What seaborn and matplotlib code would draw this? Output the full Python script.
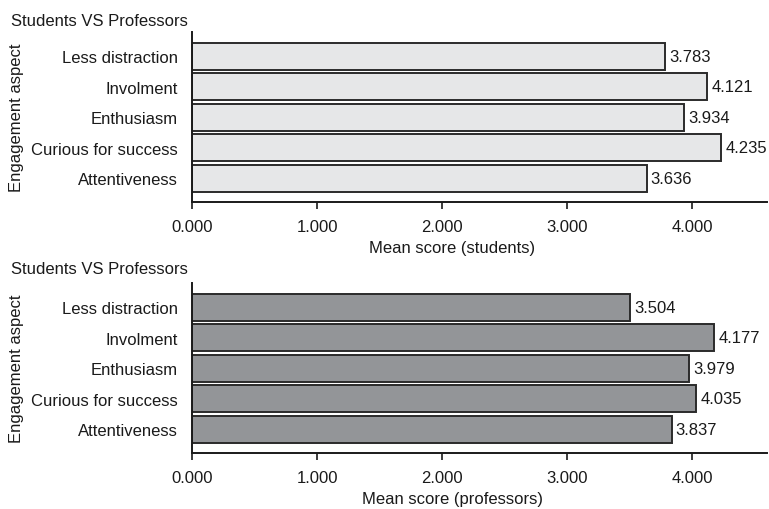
import matplotlib
matplotlib.use("Agg")
import matplotlib.pyplot as plt
from matplotlib.ticker import FormatStrFormatter, FixedLocator
import seaborn as sns
import pandas as pd

# Engagement aspects, listed top to bottom
aspects = ["Less distraction", "Involment", "Enthusiasm", "Curious for success", "Attentiveness"]

# Mean scores per aspect
students = [3.783, 4.121, 3.934, 4.235, 3.636]
professors = [3.504, 4.177, 3.979, 4.035, 3.837]

x_ticks = [0, 1, 2, 3, 4]

sns.set_theme(style="white")
plt.rcParams["font.family"] = ["Liberation Sans", "DejaVu Sans"]
FS = 12
INK = "#1a1a1a"

W, H = 769, 510
fig = plt.figure(figsize=(W / 100, H / 100), dpi=100)


def panel(top_px, values, color, xlabel, title_y_px):
    left, right, bottom = 192, 767, top_px + 170
    span = right - left
    ax = fig.add_axes([left / W, 1 - bottom / H, span / W, 170 / H])
    df = pd.DataFrame({"aspect": aspects, "score": values})
    sns.barplot(data=df, x="score", y="aspect", orient="h", color=color,
                saturation=1, edgecolor="#2b2b2b", linewidth=1.4, width=0.89, ax=ax)
    ax.bar_label(ax.containers[0], fmt="%.3f", padding=3, fontsize=FS, color=INK)
    ax.set_xlim(0, 4.6)
    ax.set_ylim(4.77, -0.79)
    ax.xaxis.set_major_locator(FixedLocator(x_ticks))
    ax.xaxis.set_major_formatter(FormatStrFormatter("%.3f"))
    ax.tick_params(axis="x", bottom=True, length=5, width=1.2, color=INK,
                   labelsize=FS, labelcolor=INK, pad=7)
    ax.tick_params(axis="y", left=False, labelsize=FS, labelcolor=INK, pad=4)
    for s in ["top", "right"]:
        ax.spines[s].set_visible(False)
    for s in ["left", "bottom"]:
        ax.spines[s].set_color(INK)
        ax.spines[s].set_linewidth(1.4)
    ax.set_xlabel(xlabel, fontsize=FS, color=INK)
    ax.xaxis.set_label_coords((452 - left) / span, -38 / 170)
    ax.set_ylabel("Engagement aspect", fontsize=FS, color=INK)
    ax.yaxis.set_label_coords(-(left - 24) / span, 0.5)
    fig.text(11 / W, 1 - title_y_px / H, "Students VS Professors", fontsize=FS,
             color=INK, ha="left", va="center")
    return ax


panel(33, students, "#e6e7e8", "Mean score (students)", 21)
panel(284, professors, "#939598", "Mean score (professors)", 270)

fig.savefig("out.png", dpi=100)
